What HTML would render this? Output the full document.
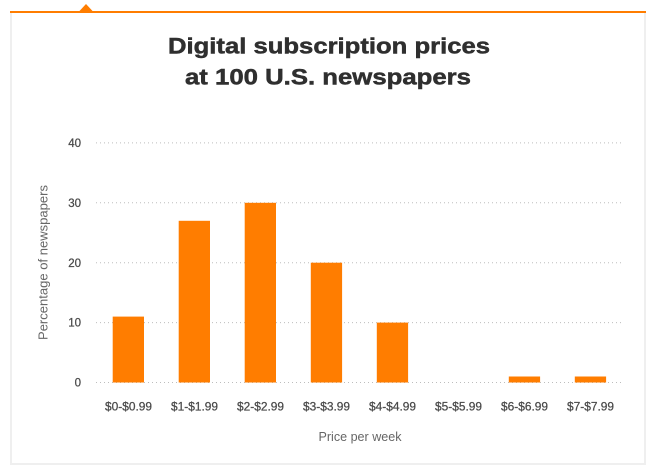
<!DOCTYPE html>
<html>
<head>
<meta charset="utf-8">
<style>
  html, body { margin: 0; padding: 0; background: #ffffff; }
  body { width: 660px; height: 470px; overflow: hidden; }
  svg { display: block; }
  text { font-family: "Liberation Sans", sans-serif; }
</style>
</head>
<body>
<svg width="660" height="470" viewBox="0 0 660 470" xmlns="http://www.w3.org/2000/svg">
  <!-- card -->
  <rect x="11" y="12" width="634" height="452" fill="#ffffff" stroke="#efefef" stroke-width="2"/>
  <!-- top orange rule -->
  <rect x="10" y="11" width="636" height="2" fill="#ff7d00"/>
  <polygon points="79,11.5 86,4 93,11.5" fill="#ff7d00"/>

  <!-- title -->
  <text x="329" y="53.5" text-anchor="middle" font-size="22.5" font-weight="bold" fill="#2f2f2f" stroke="#2f2f2f" stroke-width="0.5" textLength="322" lengthAdjust="spacingAndGlyphs">Digital subscription prices</text>
  <text x="328" y="84.5" text-anchor="middle" font-size="22.5" font-weight="bold" fill="#2f2f2f" stroke="#2f2f2f" stroke-width="0.5" textLength="286" lengthAdjust="spacingAndGlyphs">at 100 U.S. newspapers</text>

  <!-- gridlines -->
  <g stroke="#bdbdbd" stroke-width="1" stroke-dasharray="1 3">
    <line x1="96" x2="623" y1="142.9" y2="142.9"/>
    <line x1="96" x2="623" y1="202.8" y2="202.8"/>
    <line x1="96" x2="623" y1="262.7" y2="262.7"/>
    <line x1="96" x2="623" y1="322.6" y2="322.6"/>
    <line x1="96" x2="623" y1="382.5" y2="382.5"/>
  </g>

  <!-- y tick labels -->
  <g font-size="11.5" fill="#4a4a4a" stroke="#4a4a4a" stroke-width="0.25" text-anchor="end">
    <text x="81" y="147">40</text>
    <text x="81" y="206.9">30</text>
    <text x="81" y="266.8">20</text>
    <text x="81" y="326.7">10</text>
    <text x="81" y="386.6">0</text>
  </g>

  <!-- y axis title -->
  <text transform="translate(47.5,262.5) rotate(-90)" text-anchor="middle" font-size="12.5" fill="#666666" textLength="155" lengthAdjust="spacingAndGlyphs">Percentage of newspapers</text>

  <!-- bars -->
  <g fill="#ff7d00">
    <rect x="112.7" y="316.6" width="31.3" height="65.9"/>
    <rect x="178.7" y="220.8" width="31.3" height="161.7"/>
    <rect x="244.7" y="202.8" width="31.3" height="179.7"/>
    <rect x="310.8" y="262.7" width="31.3" height="119.8"/>
    <rect x="376.8" y="322.6" width="31.3" height="59.9"/>
    <rect x="508.8" y="376.5" width="31.3" height="6"/>
    <rect x="574.8" y="376.5" width="31.3" height="6"/>
  </g>

  <!-- x tick labels -->
  <g font-size="11.5" fill="#4a4a4a" stroke="#4a4a4a" stroke-width="0.25" text-anchor="middle">
    <text x="128.5" y="410.5" textLength="47" lengthAdjust="spacingAndGlyphs">$0-$0.99</text>
    <text x="194.5" y="410.5" textLength="47" lengthAdjust="spacingAndGlyphs">$1-$1.99</text>
    <text x="260.5" y="410.5" textLength="47" lengthAdjust="spacingAndGlyphs">$2-$2.99</text>
    <text x="326.5" y="410.5" textLength="47" lengthAdjust="spacingAndGlyphs">$3-$3.99</text>
    <text x="392.5" y="410.5" textLength="47" lengthAdjust="spacingAndGlyphs">$4-$4.99</text>
    <text x="458.5" y="410.5" textLength="47" lengthAdjust="spacingAndGlyphs">$5-$5.99</text>
    <text x="524.5" y="410.5" textLength="47" lengthAdjust="spacingAndGlyphs">$6-$6.99</text>
    <text x="590.5" y="410.5" textLength="47" lengthAdjust="spacingAndGlyphs">$7-$7.99</text>
  </g>

  <!-- x axis title -->
  <text x="360" y="441" text-anchor="middle" font-size="13" fill="#666666" textLength="83" lengthAdjust="spacingAndGlyphs">Price per week</text>
</svg>
</body>
</html>
